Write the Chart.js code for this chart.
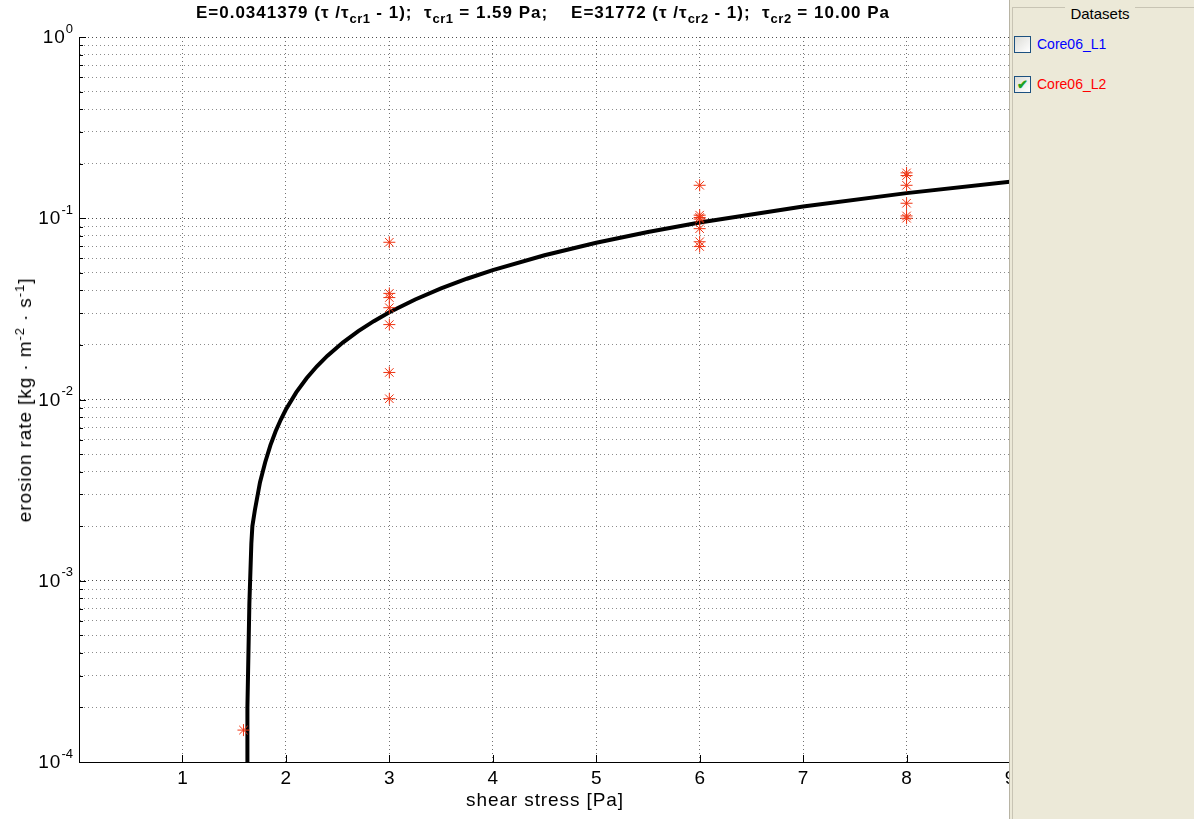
<!DOCTYPE html>
<html>
<head>
<meta charset="utf-8">
<script src="https://cdn.jsdelivr.net/npm/chart.js@4.4.1/dist/chart.umd.min.js"></script>
<style>
  html, body { margin: 0; padding: 0; background: #fff; }
  #wrap { position: relative; width: 1194px; height: 819px; overflow: hidden; font-family: Arial, "Liberation Sans", sans-serif; }
  #plot { position: absolute; left: 0; top: 0; }
  #title { position: absolute; left: 0; width: 1086px; top: 4px; line-height: 18px; text-align: center; font-weight: bold; font-size: 17px; letter-spacing: 1px; white-space: pre; }
  #title sub { font-size: 13px; vertical-align: -5px; line-height: 0; letter-spacing: 0.5px; }
  #xlabel { position: absolute; left: 0; width: 1090px; top: 789px; text-align: center; font-size: 19px; letter-spacing: 0.9px; }
  #ylabel { position: absolute; left: 25px; top: 400px; transform: translate(-50%, -50%) rotate(-90deg); white-space: nowrap; font-size: 19px; letter-spacing: 0.9px; }
  #ylabel sup { font-size: 13px; vertical-align: 7px; line-height: 0; }
  #panel { position: absolute; left: 1009px; top: 0; width: 185px; height: 819px; background: #ece9d8; border-left: 1px solid #b8b4a4; }
  #frame { position: absolute; left: 2px; top: 7px; right: -2px; bottom: -2px; border-top: 1px solid #c8c4b4; border-left: 1px solid #c8c4b4; }
  #ptitle { position: absolute; left: 55px; width: 70px; top: 5px; text-align: center; font-size: 15px; background: #ece9d8; line-height: 18px; }
  .item { position: absolute; left: 4px; height: 17px; font-size: 14px; line-height: 17px; white-space: nowrap; }
  .box { display: inline-block; width: 15px; height: 15px; border: 1px solid #1c5180; background: linear-gradient(135deg, #dcdcd7, #ffffff); vertical-align: top; margin-right: 6px; position: relative; }
  .check { position: absolute; left: 2px; top: -1px; color: #21a121; font-size: 13px; font-weight: bold; }
</style>
</head>
<body>
<div id="wrap">
  <canvas id="plot" width="1194" height="819"></canvas>
  <div id="title">E=0.0341379 (τ /τ<sub>cr1</sub> - 1);  τ<sub>cr1</sub> = 1.59 Pa;    E=31772 (τ /τ<sub>cr2</sub> - 1);  τ<sub>cr2</sub> = 10.00 Pa</div>
  <div id="xlabel">shear stress [Pa]</div>
  <div id="ylabel">erosion rate [kg · m<sup>-2</sup> · s<sup>-1</sup>]</div>
  <div id="panel">
    <div id="frame"></div>
    <div id="ptitle">Datasets</div>
    <div class="item" style="top:36px"><span class="box"></span><span style="color:#0000ff">Core06_L1</span></div>
    <div class="item" style="top:76px"><span class="box"><span class="check">✔</span></span><span style="color:#ff0000">Core06_L2</span></div>
  </div>
</div>
<script>
// axis ticks
const xTickValues = [1, 2, 3, 4, 5, 6, 7, 8, 9];
const yExponents = [-4, -3, -2, -1, 0];

// measured erosion rates (Core06_L2)
const stressPoints = [1.59, 3, 3, 3, 3, 3, 3, 3, 6, 6, 6, 6, 6, 6, 6, 8, 8, 8, 8, 8, 8];
const erosionPoints = [1.5e-4, 0.0737, 0.0385, 0.0365, 0.0321, 0.0259, 0.0141, 0.0101,
  0.152, 0.104, 0.101, 0.099, 0.0876, 0.0742, 0.0698,
  0.178, 0.172, 0.152, 0.121, 0.103, 0.100];

// fitted curve as drawn
const curveStress = [1.625, 1.628, 1.647, 1.666, 1.676, 1.70, 1.75, 1.80, 1.85, 1.90, 1.95, 2.00, 2.10, 2.20,
  2.30, 2.40, 2.55, 2.70, 2.85, 3.00, 3.25, 3.50, 3.75, 4.00, 4.50, 5.00, 5.50, 6.00, 7.00, 8.00, 9.00];
const curveErosion = [5.0e-5, 2.0e-4, 7.5e-4, 1.6e-3, 2.0e-3, 2.45e-3, 3.5e-3, 4.509e-3, 5.58e-3, 6.656e-3,
  7.73e-3, 8.803e-3, 0.01095, 0.013097, 0.015244, 0.017391, 0.020612, 0.023832, 0.027052, 0.030273,
  0.035640, 0.041008, 0.046376, 0.051743, 0.062479, 0.073214, 0.083949, 0.094684, 0.116155, 0.137625, 0.159096];

const isDecade = v => Math.abs(Math.log10(v) - Math.round(Math.log10(v))) < 1e-9;

// tick labels with superscripts + inward tick marks
const axisDecor = {
  id: 'axisDecor',
  afterDraw(chart) {
    const { ctx, chartArea, scales: { x, y } } = chart;
    ctx.save();
    ctx.strokeStyle = '#000';
    ctx.lineWidth = 1;
    y.ticks.forEach(t => {
      const py = Math.round(y.getPixelForValue(t.value)) + 0.5;
      const len = isDecade(t.value) ? 7 : 4;
      ctx.beginPath();
      ctx.moveTo(chartArea.left, py);
      ctx.lineTo(chartArea.left + len, py);
      ctx.stroke();
    });
    xTickValues.forEach(v => {
      const px = Math.round(x.getPixelForValue(v)) + 0.5;
      ctx.beginPath();
      ctx.moveTo(px, chartArea.bottom);
      ctx.lineTo(px, chartArea.bottom - 7);
      ctx.stroke();
    });

    ctx.fillStyle = '#000';
    ctx.textAlign = 'right';
    ctx.textBaseline = 'middle';
    yExponents.forEach(e => {
      const py = y.getPixelForValue(Math.pow(10, e));
      const expStr = String(e);
      ctx.letterSpacing = '0px';
      ctx.font = '13px Arial';
      const ew = ctx.measureText(expStr).width;
      const right = chartArea.left - 6;
      ctx.fillText(expStr, right, py - 8);
      ctx.font = '19px Arial';
      ctx.letterSpacing = '1px';
      ctx.fillText('10', right - ew, py + 1);
    });
    ctx.textAlign = 'center';
    ctx.letterSpacing = '0px';
    ctx.font = '19px Arial';
    xTickValues.forEach(v => {
      ctx.fillText(String(v), x.getPixelForValue(v), chartArea.bottom + 17);
    });
    ctx.restore();
  }
};

new Chart(document.getElementById('plot'), {
  type: 'scatter',
  data: {
    datasets: [
      {
        label: 'fit',
        data: curveStress.map((s, i) => ({ x: s, y: curveErosion[i] })),
        showLine: true,
        borderColor: '#000',
        borderWidth: 4,
        pointRadius: 0,
        fill: false,
        order: 1
      },
      {
        label: 'Core06_L2',
        data: stressPoints.map((s, i) => ({ x: s, y: erosionPoints[i] })),
        showLine: false,
        pointStyle: 'star',
        pointRadius: 6,
        borderColor: '#ee3311',
        backgroundColor: '#ee3311',
        borderWidth: 1,
        order: 0
      }
    ]
  },
  options: {
    responsive: false,
    animation: false,
    layout: { padding: { left: 79, right: 184, top: 37, bottom: 57 } },
    plugins: {
      legend: { display: false },
      tooltip: { enabled: false }
    },
    scales: {
      x: {
        type: 'linear',
        min: 0,
        max: 9,
        afterBuildTicks: s => { s.ticks = xTickValues.map(v => ({ value: v })); },
        ticks: { display: false },
        grid: { color: 'rgba(0,0,0,0.55)', lineWidth: 1, drawTicks: false },
        border: { color: '#000', width: 1, dash: [1, 3] }
      },
      y: {
        type: 'logarithmic',
        min: 1e-4,
        max: 1,
        afterBuildTicks: s => {
          const ticks = [];
          yExponents.forEach(e => {
            const mults = e === 0 ? [1] : [1, 2, 3, 4, 5, 6, 7, 8, 9];
            mults.forEach(m => ticks.push({ value: m * Math.pow(10, e) }));
          });
          s.ticks = ticks;
        },
        ticks: { display: false },
        grid: {
          color: c => (c.tick && isDecade(c.tick.value)) ? 'rgba(0,0,0,0.7)' : 'rgba(0,0,0,0.45)',
          lineWidth: 1,
          drawTicks: false
        },
        border: { color: '#000', width: 1, dash: [1, 3] }
      }
    }
  },
  plugins: [axisDecor]
});
</script>
</body>
</html>
